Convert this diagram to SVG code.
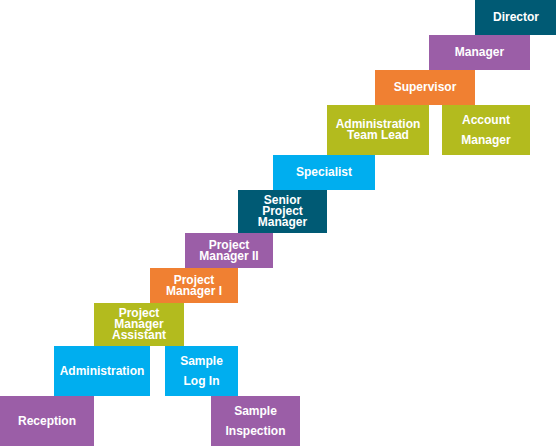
<svg xmlns="http://www.w3.org/2000/svg" width="556" height="446" viewBox="0 0 556 446">
<style>
text{font-family:"Liberation Sans",Arial,sans-serif;font-size:12px;font-weight:bold;fill:#ffffff;text-anchor:middle}
.teal{fill:#005a74}
.purple{fill:#9b5ea7}
.orange{fill:#f08032}
.olive{fill:#b3bb1e}
.blue{fill:#00aeef}
</style>
<rect width="556" height="446" fill="#ffffff"/>
<g id="connectors"></g>
<g id="director"><rect class="teal" x="475" y="0" width="81" height="35"/><text x="516" y="21">Director</text></g>
<g id="manager"><rect class="purple" x="429" y="35" width="101" height="35"/><text x="479.5" y="56">Manager</text></g>
<g id="supervisor"><rect class="orange" x="375" y="70" width="100" height="35"/><text x="425" y="91">Supervisor</text></g>
<g id="admin-team-lead"><rect class="olive" x="327" y="105" width="102" height="50"/><text x="378" y="128">Administration</text><text x="378" y="139">Team Lead</text></g>
<g id="account-manager"><rect class="olive" x="442" y="105" width="88" height="50"/><text x="486" y="123.5">Account</text><text x="486" y="143.5">Manager</text></g>
<g id="specialist"><rect class="blue" x="273" y="155" width="102" height="35"/><text x="324" y="176">Specialist</text></g>
<g id="senior-pm"><rect class="teal" x="238" y="190" width="89" height="43"/><text x="282.5" y="204">Senior</text><text x="282.5" y="215">Project</text><text x="282.5" y="226">Manager</text></g>
<g id="pm2"><rect class="purple" x="185" y="233" width="88" height="35"/><text x="229" y="249">Project</text><text x="229" y="260">Manager II</text></g>
<g id="pm1"><rect class="orange" x="150" y="268" width="88" height="35"/><text x="194" y="284">Project</text><text x="194" y="295">Manager I</text></g>
<g id="pma"><rect class="olive" x="94" y="303" width="90" height="43"/><text x="139" y="317">Project</text><text x="139" y="328">Manager</text><text x="139" y="339">Assistant</text></g>
<g id="administration"><rect class="blue" x="54" y="346" width="96" height="50"/><text x="102" y="375">Administration</text></g>
<g id="sample-log-in"><rect class="blue" x="165" y="346" width="73" height="50"/><text x="201.5" y="365">Sample</text><text x="201.5" y="385">Log In</text></g>
<g id="reception"><rect class="purple" x="0" y="396" width="94" height="50"/><text x="47" y="425">Reception</text></g>
<g id="sample-inspection"><rect class="purple" x="211" y="396" width="89" height="50"/><text x="255.5" y="415">Sample</text><text x="255.5" y="435">Inspection</text></g>
</svg>
